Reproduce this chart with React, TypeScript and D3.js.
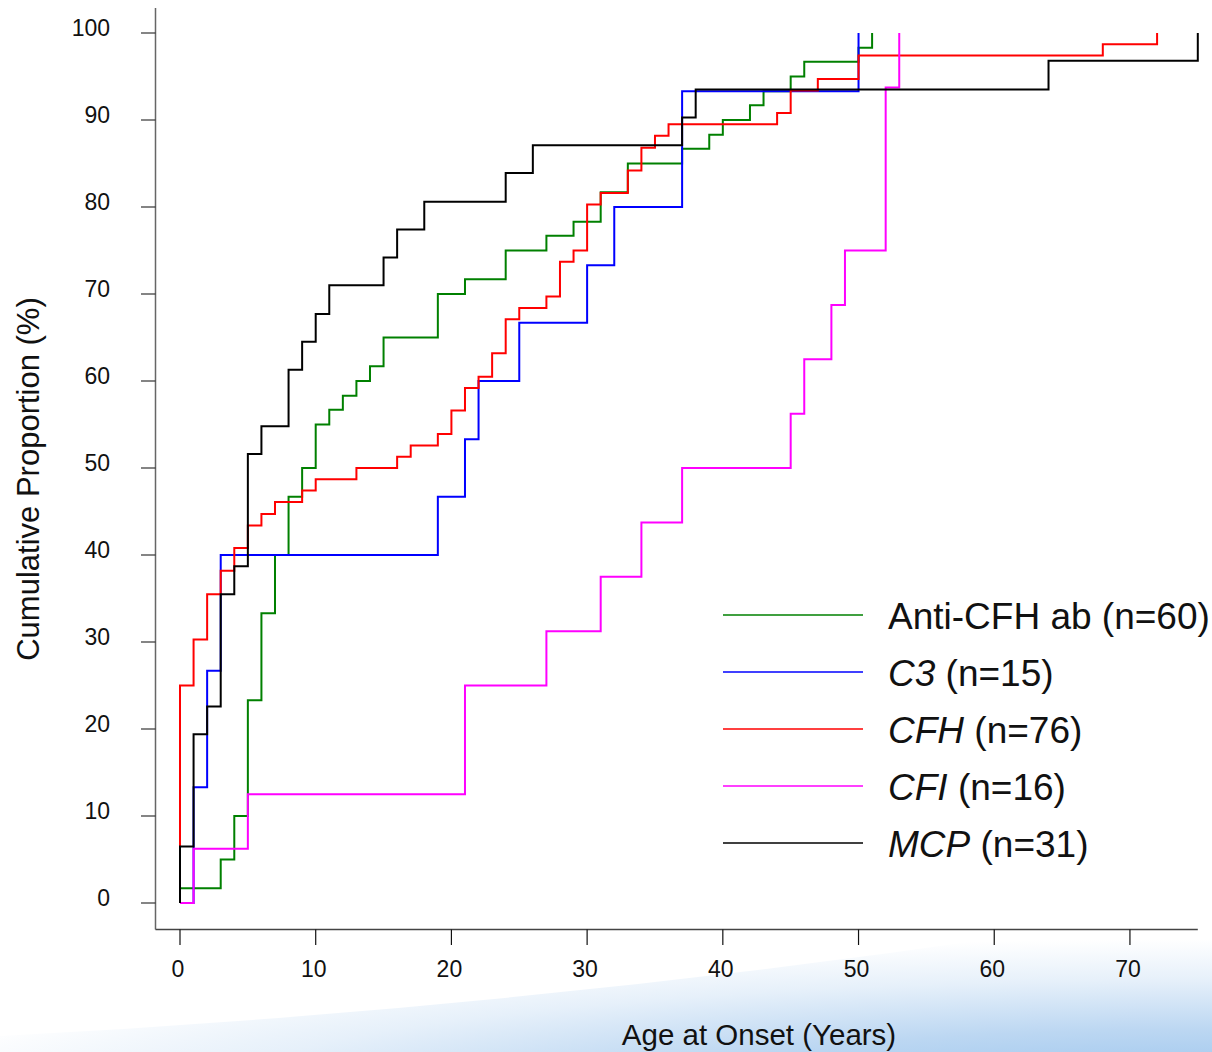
import React from "react";
import * as d3 from "d3";

const svgWidth = 1212;
const svgHeight = 1052;

const xTicks = [0, 10, 20, 30, 40, 50, 60, 70];
const yTicks = [0, 10, 20, 30, 40, 50, 60, 70, 80, 90, 100];

// age at each step, cumulative % reached at that age
const antiCfhAges = [0, 3, 4, 5, 6, 7, 8, 9, 10, 11, 12, 13, 14, 15, 19, 21, 24, 27, 29, 31, 33, 37, 39, 40, 42, 43, 45, 46, 50, 51];
const antiCfhPct = [1.7, 5, 10, 23.3, 33.3, 40, 46.7, 50, 55, 56.7, 58.3, 60, 61.7, 65, 70, 71.7, 75, 76.7, 78.3, 81.7, 85, 86.7, 88.3, 90, 91.7, 93.3, 95, 96.7, 98.3, 100];

const c3Ages = [1, 2, 3, 19, 21, 22, 25, 30, 32, 37, 50];
const c3Pct = [13.3, 26.7, 40, 46.7, 53.3, 60, 66.7, 73.3, 80, 93.3, 100];

const cfhAges = [0, 1, 2, 3, 4, 5, 6, 7, 9, 10, 13, 16, 17, 19, 20, 21, 22, 23, 24, 25, 27, 28, 29, 30, 31, 33, 34, 35, 36, 44, 45, 47, 50, 68, 72];
const cfhPct = [25, 30.3, 35.5, 38.2, 40.8, 43.4, 44.7, 46.1, 47.4, 48.7, 50, 51.3, 52.6, 53.9, 56.6, 59.2, 60.5, 63.2, 67.1, 68.4, 69.7, 73.7, 75, 80.3, 81.6, 84.2, 86.8, 88.2, 89.5, 90.8, 93.4, 94.7, 97.4, 98.7, 100];

const cfiAges = [1, 5, 21, 27, 31, 34, 37, 45, 46, 48, 49, 52, 53];
const cfiPct = [6.25, 12.5, 25, 31.25, 37.5, 43.75, 50, 56.25, 62.5, 68.75, 75, 93.75, 100];

const mcpAges = [0, 1, 2, 3, 4, 5, 6, 8, 9, 10, 11, 15, 16, 18, 24, 26, 37, 38, 64, 75];
const mcpPct = [6.5, 19.4, 22.6, 35.5, 38.7, 51.6, 54.8, 61.3, 64.5, 67.7, 71, 74.2, 77.4, 80.6, 83.9, 87.1, 90.3, 93.5, 96.8, 100];

const series = [
    { name: "Anti-CFH ab", gene: false, n: 60, color: "#008000", ages: antiCfhAges, pct: antiCfhPct },
    { name: "C3", gene: true, n: 15, color: "#0000ff", ages: c3Ages, pct: c3Pct },
    { name: "CFH", gene: true, n: 76, color: "#ff0000", ages: cfhAges, pct: cfhPct },
    { name: "CFI", gene: true, n: 16, color: "#ff00ff", ages: cfiAges, pct: cfiPct },
    { name: "MCP", gene: true, n: 31, color: "#000000", ages: mcpAges, pct: mcpPct },
];

const font = "'Liberation Sans', Arial, sans-serif";

const App = () => {
    const xScale = d3.scaleLinear().domain([0, 75]).range([180, 1197.8]);
    const yScale = d3.scaleLinear().domain([0, 100]).range([903, 33]);

    const line = d3
        .line<[number, number]>()
        .x((d) => xScale(d[0]))
        .y((d) => yScale(d[1]))
        .curve(d3.curveStepAfter);

    return (
        <svg
            width={svgWidth}
            height={svgHeight}
            style={{ position: "absolute", left: 0, top: 0, fontFamily: font }}
        >
            <defs>
                <radialGradient id="swoosh" cx="1" cy="1.35" r="1.12">
                    <stop offset="0%" stopColor="#8fbeec" />
                    <stop offset="45%" stopColor="#bcd7f2" />
                    <stop offset="75%" stopColor="#e6f0fa" />
                    <stop offset="100%" stopColor="#ffffff" />
                </radialGradient>
            </defs>
            <rect width={svgWidth} height={svgHeight} fill="white" />
            <path
                d="M0,1036 Q600,1005 1212,905 L1212,1052 L0,1052 Z"
                fill="url(#swoosh)"
            />

            {/* axes */}
            <line x1={155.5} y1={8} x2={155.5} y2={929.5} stroke="#666" strokeWidth={1.5} />
            <line x1={155.5} y1={929.5} x2={1197.8} y2={929.5} stroke="#444" strokeWidth={1.5} />

            {yTicks.map((t, i) => (
                <g key={i}>
                    <line x1={141} y1={yScale(t)} x2={155.5} y2={yScale(t)} stroke="#333" strokeWidth={1.2} />
                    <text x={110} y={yScale(t) + 3} textAnchor="end" fontSize={23} fill="#111">
                        {t}
                    </text>
                </g>
            ))}
            {xTicks.map((t, i) => (
                <g key={i}>
                    <line x1={xScale(t)} y1={929.5} x2={xScale(t)} y2={945} stroke="#111" strokeWidth={1.2} />
                    <text x={xScale(t) - 2} y={977} textAnchor="middle" fontSize={23} fill="#111">
                        {t}
                    </text>
                </g>
            ))}

            <text
                transform="translate(39,479) rotate(-90)"
                textAnchor="middle"
                fontSize={31}
                fill="#111"
            >
                Cumulative Proportion (%)
            </text>
            <text x={759} y={1045} textAnchor="middle" fontSize={29.5} fill="#111">
                Age at Onset (Years)
            </text>

            {/* KM-style cumulative curves */}
            {series.map((s, i) => {
                const pts: [number, number][] = [[0, 0]];
                s.ages.forEach((a, j) => pts.push([a, s.pct[j]]));
                return (
                    <path
                        key={i}
                        d={line(pts) || ""}
                        fill="none"
                        stroke={s.color}
                        strokeWidth={2}
                    />
                );
            })}

            {/* legend */}
            {series.map((s, i) => {
                const ly = 615 + i * 57;
                return (
                    <g key={i}>
                        <line x1={723} y1={ly} x2={863} y2={ly} stroke={s.color} strokeWidth={1.5} />
                        <text x={888} y={ly + 14} fontSize={37} fill="#111">
                            <tspan fontStyle={s.gene ? "italic" : "normal"}>{s.name}</tspan>
                            <tspan>{` (n=${s.n})`}</tspan>
                        </text>
                    </g>
                );
            })}
        </svg>
    );
};

export default App;
